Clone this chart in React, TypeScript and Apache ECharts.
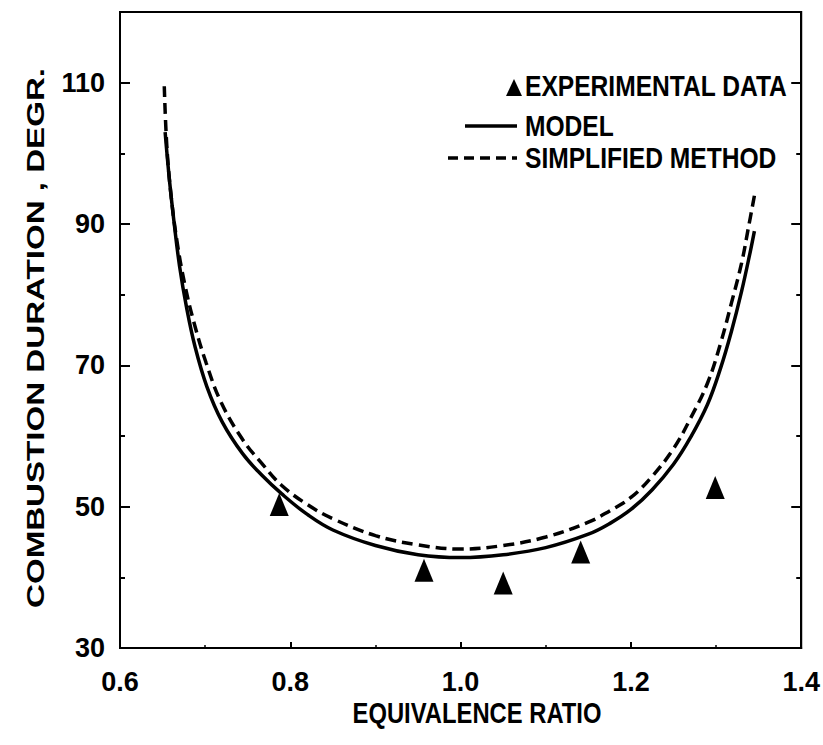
import React, { useEffect, useRef } from "react";
import * as echarts from "echarts";

// ---- data ----
const xTickValues = [0.6, 0.8, 1.0, 1.2, 1.4];
const yLabelValues = [30, 50, 70, 90, 110];

const experimentalPhi = [0.787, 0.957, 1.05, 1.141, 1.299];
const experimentalDur = [50.3, 41.0, 39.2, 43.6, 52.7];

const modelPhi = [0.653, 0.658, 0.664, 0.67, 0.678, 0.688, 0.702, 0.72, 0.744, 0.767, 0.79, 0.82, 0.85, 0.9, 0.95, 1.0, 1.05, 1.1, 1.15, 1.175, 1.2, 1.225, 1.25, 1.27, 1.29, 1.305, 1.318, 1.33, 1.34, 1.345];
const modelDur = [103.0, 96.3, 89.7, 84.0, 78.3, 72.7, 67.0, 62.0, 57.5, 54.4, 51.8, 48.9, 46.7, 44.5, 43.2, 42.8, 43.2, 44.2, 46.1, 47.6, 49.6, 52.4, 56.0, 59.8, 64.5, 69.5, 74.8, 80.5, 86.0, 89.0];

const simplePhi = [0.652, 0.655, 0.66, 0.667, 0.676, 0.687, 0.701, 0.719, 0.744, 0.766, 0.79, 0.82, 0.85, 0.9, 0.95, 1.0, 1.05, 1.1, 1.15, 1.175, 1.2, 1.225, 1.25, 1.27, 1.29, 1.305, 1.318, 1.33, 1.338, 1.345];
const simpleDur = [109.5, 101.0, 94.0, 87.5, 81.5, 76.0, 70.4, 64.7, 59.5, 56.2, 53.0, 50.3, 48.3, 45.9, 44.6, 44.0, 44.5, 45.7, 47.8, 49.4, 51.3, 54.3, 58.2, 62.5, 67.5, 73.0, 78.8, 84.5, 89.5, 94.0];

const legendLabels = ["EXPERIMENTAL DATA", "MODEL", "SIMPLIFIED METHOD"];
const yTitle = "COMBUSTION DURATION , DEGR.";
const xTitle = "EQUIVALENCE RATIO";

const FONT = '"Liberation Sans", Arial, Helvetica, sans-serif';

export default function App() {
  const ref = useRef<HTMLDivElement>(null);

  useEffect(() => {
    if (!ref.current) return;
    const chart = echarts.init(ref.current, undefined, { renderer: "svg" });

    const labelText = {
      fontSize: 27,
      fontWeight: "bold" as const,
      fontFamily: FONT,
      color: "#000",
    };
    const yBase = {
      type: "value" as const,
      min: 30,
      max: 120,
      interval: 10,
      splitLine: { show: false },
    };
    const tickStyle = { color: "#000", width: 2 };
    const legendFont = `bold 30px ${FONT}`;

    const option: any = {
      animation: false,
      backgroundColor: "#fff",
      grid: {
        left: 120,
        right: 19,
        top: 12,
        bottom: 97,
        show: true,
        borderColor: "#000",
        borderWidth: 2,
        backgroundColor: "transparent",
      },
      xAxis: [
        {
          type: "value",
          min: 0.6,
          max: 1.4,
          interval: 0.2,
          position: "bottom",
          axisLine: { show: true, onZero: false, lineStyle: { color: "#000", width: 2 } },
          axisTick: { show: true, inside: true, length: 6, lineStyle: tickStyle },
          minorTick: { show: true, splitNumber: 2, length: 3, lineStyle: { color: "#000", width: 1.5 } },
          splitLine: { show: false },
          axisLabel: {
            ...labelText,
            margin: 20,
            customValues: xTickValues,
            formatter: (v: number) => v.toFixed(1),
          },
        },
      ],
      yAxis: [
        {
          ...yBase,
          position: "left",
          axisLine: { show: true, onZero: false, lineStyle: { color: "#000", width: 2 } },
          axisTick: { show: true, inside: true, length: 10, lineStyle: tickStyle, customValues: yLabelValues },
          axisLabel: { ...labelText, margin: 15, customValues: yLabelValues },
        },
        {
          ...yBase,
          position: "left",
          axisLine: { show: false },
          axisTick: { show: true, inside: true, length: 5, lineStyle: tickStyle },
          axisLabel: { show: false },
        },
        {
          ...yBase,
          position: "right",
          axisLine: { show: true, onZero: false, lineStyle: { color: "#000", width: 2 } },
          axisTick: { show: true, inside: true, length: 10, lineStyle: tickStyle, customValues: yLabelValues },
          axisLabel: { show: false },
        },
        {
          ...yBase,
          position: "right",
          axisLine: { show: false },
          axisTick: { show: true, inside: true, length: 5, lineStyle: tickStyle },
          axisLabel: { show: false },
        },
      ],
      graphic: [
        {
          type: "text",
          x: 36,
          y: 338,
          rotation: Math.PI / 2,
          scaleX: 1.38,
          style: {
            text: yTitle,
            font: `bold 24px ${FONT}`,
            fill: "#000",
            align: "center",
            verticalAlign: "middle",
          },
        },
        {
          type: "text",
          x: 477,
          y: 713,
          scaleX: 0.85,
          scaleY: 1.05,
          style: {
            text: xTitle,
            font: `bold 28px ${FONT}`,
            fill: "#000",
            align: "center",
            verticalAlign: "middle",
          },
        },
        // legend
        {
          type: "polygon",
          shape: { points: [[506, 96], [514, 79], [522, 96]] },
          style: { fill: "#000" },
        },
        {
          type: "text",
          x: 525,
          y: 86,
          scaleX: 0.82,
          style: { text: legendLabels[0], font: legendFont, fill: "#000", align: "left", verticalAlign: "middle" },
        },
        {
          type: "line",
          shape: { x1: 465, y1: 126, x2: 517, y2: 126 },
          style: { stroke: "#000", lineWidth: 3.5 },
        },
        {
          type: "text",
          x: 525,
          y: 126,
          scaleX: 0.82,
          style: { text: legendLabels[1], font: legendFont, fill: "#000", align: "left", verticalAlign: "middle" },
        },
        {
          type: "line",
          shape: { x1: 448, y1: 158, x2: 517, y2: 158 },
          style: { stroke: "#000", lineWidth: 3.5, lineDash: [10, 6] },
        },
        {
          type: "text",
          x: 525,
          y: 158,
          scaleX: 0.82,
          style: { text: legendLabels[2], font: legendFont, fill: "#000", align: "left", verticalAlign: "middle" },
        },
      ],
      series: [
        {
          name: legendLabels[1],
          type: "line",
          xAxisIndex: 0,
          yAxisIndex: 0,
          data: modelPhi.map((x, i) => [x, modelDur[i]]),
          symbol: "none",
          smooth: 0.4,
          lineStyle: { color: "#000", width: 3.5 },
          itemStyle: { color: "#000" },
          z: 3,
        },
        {
          name: legendLabels[2],
          type: "line",
          xAxisIndex: 0,
          yAxisIndex: 0,
          data: simplePhi.map((x, i) => [x, simpleDur[i]]),
          symbol: "none",
          smooth: 0.4,
          lineStyle: { color: "#000", width: 3.5, type: [11, 6] },
          itemStyle: { color: "#000" },
          z: 3,
        },
        {
          name: legendLabels[0],
          type: "scatter",
          xAxisIndex: 0,
          yAxisIndex: 0,
          data: experimentalPhi.map((x, i) => [x, experimentalDur[i]]),
          symbol: "triangle",
          symbolSize: [19, 23],
          itemStyle: { color: "#000", opacity: 1 },
          z: 5,
        },
      ],
    };

    chart.setOption(option);
    return () => chart.dispose();
  }, []);

  return (
    <div
      ref={ref}
      style={{ position: "fixed", left: 0, top: 0, width: 823, height: 745, background: "#fff" }}
    />
  );
}
